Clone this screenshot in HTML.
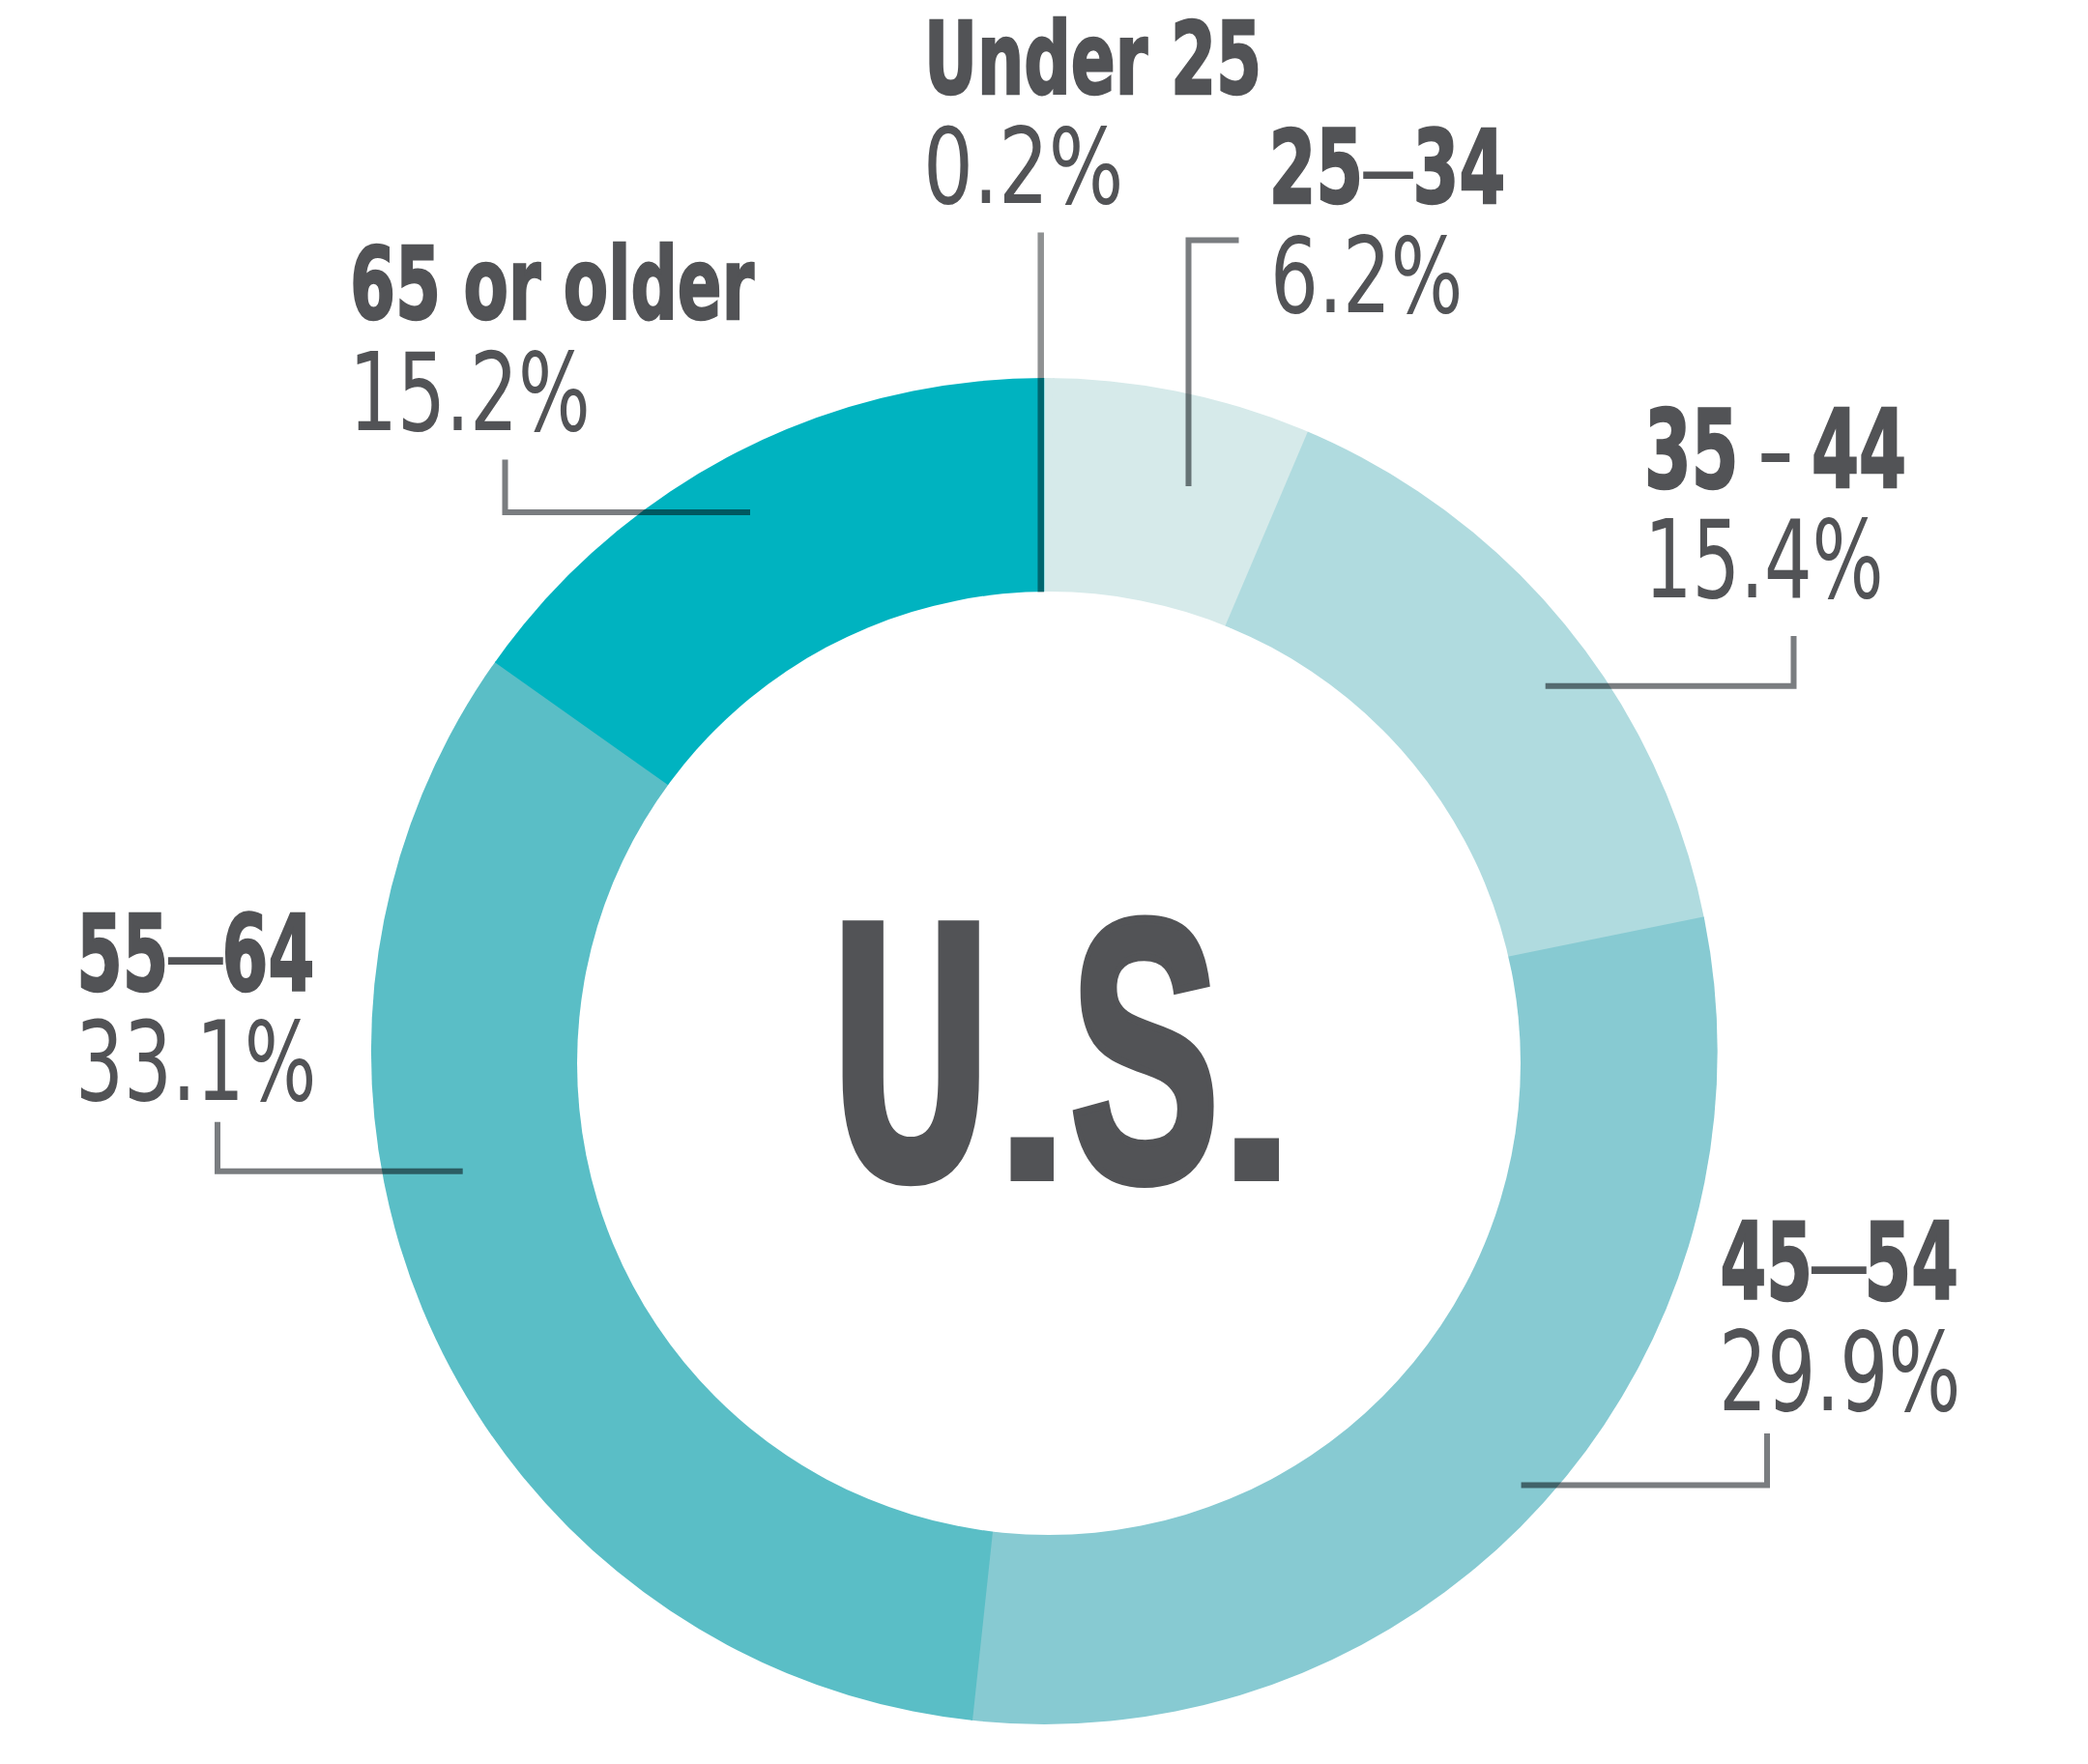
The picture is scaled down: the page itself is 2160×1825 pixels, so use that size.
<!DOCTYPE html>
<html lang="en"><head><meta charset="utf-8"><title>U.S. age distribution</title>
<style>html,body{margin:0;padding:0;background:#fff;}svg{display:block;}</style></head>
<body><svg width="2160" height="1825" viewBox="0 0 2160 1825">
<rect width="2160" height="1825" fill="#fff"/>
<clipPath id="oc"><circle cx="1080.3" cy="1087.5" r="696.4"/></clipPath>
<g clip-path="url(#oc)">
<path d="M1080.30,1087.50 L1080.30,389.10 A698.40,698.40 0 0 1 1090.90,389.18 Z" fill="#d6eaea"/>
<path d="M1080.30,1087.50 L1089.08,389.16 A698.40,698.40 0 0 1 1355.32,445.53 Z" fill="#d6eaea"/>
<path d="M1080.30,1087.50 L1353.64,444.81 A698.40,698.40 0 0 1 1764.99,949.81 Z" fill="#b0dbdf"/>
<path d="M1080.30,1087.50 L1764.63,948.02 A698.40,698.40 0 0 1 1004.03,1781.72 Z" fill="#87cad2"/>
<path d="M1080.30,1087.50 L1005.84,1781.92 A698.40,698.40 0 0 1 511.23,682.63 Z" fill="#5abec6"/>
<path d="M1080.30,1087.50 L510.17,684.12 A698.40,698.40 0 0 1 1080.30,389.10 Z" fill="#00b3c0"/>
</g>
<circle cx="1085.0" cy="1100.0" r="488.0" fill="#fff"/>
<g style="mix-blend-mode:multiply">
<path d="M1076.7,240.5 V612.5" fill="none" stroke="#8f9192" stroke-width="6.5" stroke-linecap="butt" stroke-linejoin="miter"/>
<path d="M1281.5,248.5 H1229.5 V503" fill="none" stroke="#7a7d80" stroke-width="6" stroke-linecap="butt" stroke-linejoin="miter"/>
<path d="M522.5,475.5 V530 H776" fill="none" stroke="#7a7d80" stroke-width="6" stroke-linecap="butt" stroke-linejoin="miter"/>
<path d="M1855.5,658 V709.7 H1598.7" fill="none" stroke="#7a7d80" stroke-width="6" stroke-linecap="butt" stroke-linejoin="miter"/>
<path d="M1828,1483 V1536.4 H1573.6" fill="none" stroke="#7a7d80" stroke-width="6" stroke-linecap="butt" stroke-linejoin="miter"/>
<path d="M225,1160.8 V1211.8 H478.7" fill="none" stroke="#7a7d80" stroke-width="6" stroke-linecap="butt" stroke-linejoin="miter"/>
</g>
<g font-family='"DejaVu Sans", "Liberation Sans", sans-serif'>
<text y="97.00" font-size="103.49" fill="#525356"><tspan x="956.00" font-weight="700" stroke="#525356" stroke-width="2.5" stroke-linejoin="miter" textLength="349.24" lengthAdjust="spacingAndGlyphs">Under 25</tspan></text>
<text y="210.00" font-size="108.47" fill="#525356"><tspan x="955.00" font-weight="400" textLength="207.43" lengthAdjust="spacingAndGlyphs">0.2%</tspan></text>
<text y="210.00" font-size="105.97" fill="#525356"><tspan x="1312.40" font-weight="700" stroke="#525356" stroke-width="2.5" stroke-linejoin="miter" textLength="97.93" lengthAdjust="spacingAndGlyphs">25</tspan><tspan x="1404.00" font-weight="400" textLength="64.15" lengthAdjust="spacingAndGlyphs">&#8211;</tspan><tspan x="1461.60" font-weight="700" stroke="#525356" stroke-width="2.5" stroke-linejoin="miter" textLength="95.58" lengthAdjust="spacingAndGlyphs">34</tspan></text>
<text y="323.00" font-size="108.47" fill="#525356"><tspan x="1314.00" font-weight="400" textLength="199.45" lengthAdjust="spacingAndGlyphs">6.2%</tspan></text>
<text y="330.00" font-size="103.73" fill="#525356"><tspan x="362.00" font-weight="700" stroke="#525356" stroke-width="2.5" stroke-linejoin="miter" textLength="418.01" lengthAdjust="spacingAndGlyphs">65 or older</tspan></text>
<text y="445.00" font-size="112.60" fill="#525356"><tspan x="361.00" font-weight="400" textLength="249.70" lengthAdjust="spacingAndGlyphs">15.2%</tspan></text>
<text y="504.00" font-size="111.39" fill="#525356"><tspan x="1701.00" font-weight="700" stroke="#525356" stroke-width="2.5" stroke-linejoin="miter" textLength="97.38" lengthAdjust="spacingAndGlyphs">35</tspan><tspan x="1782.00" font-weight="400" textLength="109.36" lengthAdjust="spacingAndGlyphs"> - </tspan><tspan x="1874.00" font-weight="700" stroke="#525356" stroke-width="2.5" stroke-linejoin="miter" textLength="98.23" lengthAdjust="spacingAndGlyphs">44</tspan></text>
<text y="618.00" font-size="112.47" fill="#525356"><tspan x="1701.00" font-weight="400" textLength="247.71" lengthAdjust="spacingAndGlyphs">15.4%</tspan></text>
<text y="1024.00" font-size="108.69" fill="#525356"><tspan x="79.20" font-weight="700" stroke="#525356" stroke-width="2.5" stroke-linejoin="miter" textLength="95.05" lengthAdjust="spacingAndGlyphs">55</tspan><tspan x="167.00" font-weight="400" textLength="70.65" lengthAdjust="spacingAndGlyphs">&#8211;</tspan><tspan x="229.60" font-weight="700" stroke="#525356" stroke-width="2.5" stroke-linejoin="miter" textLength="95.72" lengthAdjust="spacingAndGlyphs">64</tspan></text>
<text y="1138.00" font-size="113.87" fill="#525356"><tspan x="78.00" font-weight="400" textLength="249.44" lengthAdjust="spacingAndGlyphs">33.1%</tspan></text>
<text y="1344.00" font-size="111.16" fill="#525356"><tspan x="1779.60" font-weight="700" stroke="#525356" stroke-width="2.5" stroke-linejoin="miter" textLength="95.43" lengthAdjust="spacingAndGlyphs">45</tspan><tspan x="1867.00" font-weight="400" textLength="70.65" lengthAdjust="spacingAndGlyphs">&#8211;</tspan><tspan x="1928.60" font-weight="700" stroke="#525356" stroke-width="2.5" stroke-linejoin="miter" textLength="97.51" lengthAdjust="spacingAndGlyphs">54</tspan></text>
<text y="1459.00" font-size="113.94" fill="#525356"><tspan x="1778.00" font-weight="400" textLength="250.43" lengthAdjust="spacingAndGlyphs">29.9%</tspan></text>
<text y="1222.00" font-size="369.99" fill="#525356"><tspan x="851.00" font-weight="700" textLength="182.39" lengthAdjust="spacingAndGlyphs">U</tspan><tspan x="1019.80" font-weight="700" font-size="240.78" y="1222.00" textLength="96.02" lengthAdjust="spacingAndGlyphs">.</tspan><tspan x="1105.80" font-weight="700" font-size="387.55" y="1221.20" font-family='"Liberation Sans", sans-serif' stroke="#525356" stroke-width="8" stroke-linejoin="miter" textLength="156.52" lengthAdjust="spacingAndGlyphs">S</tspan><tspan x="1250.60" font-weight="700" font-size="235.55" y="1222.00" textLength="99.04" lengthAdjust="spacingAndGlyphs">.</tspan></text>
</g>
</svg></body></html>
